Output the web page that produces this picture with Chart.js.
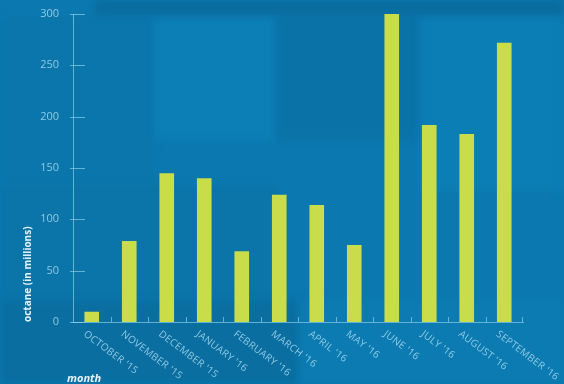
<!DOCTYPE html>
<html>
<head>
<meta charset="utf-8">
<script src="https://cdn.jsdelivr.net/npm/chart.js@4"></script>
<style>
    html, body { margin: 0; padding: 0; background: #0b79b0; }
    canvas { display: block; }
</style>
</head>
<body>
<canvas id="chart" width="564" height="384"></canvas>
<script>
const months = ["OCTOBER '15", "NOVEMBER '15", "DECEMBER '15", "JANUARY '16", "FEBRUARY '16", "MARCH '16",
                "APRIL '16", "MAY '16", "JUNE '16", "JULY '16", "AUGUST '16", "SEPTEMBER '16"];
const octane = [10, 79, 145, 140, 69, 124, 114, 75, 300, 192, 183, 272];
const yTicks = [0, 50, 100, 150, 200, 250, 300];

const axisColor = 'rgba(150, 210, 235, 0.65)';
const labelColor = 'rgba(175, 222, 242, 0.8)';

// blocky blurred backdrop
const backdrop = {
    id: 'backdrop',
    beforeDraw(chart) {
        const ctx = chart.ctx;
        const blocks = [
            ['#0b79b0', 0, 0, 564, 384],
            ['#0b76ab', 0, 15, 155, 170],
            ['#0c7fb7', 155, 15, 122, 125],
            ['#0a72a6', 277, 15, 143, 125],
            ['#0c7eb6', 420, 15, 144, 175],
            ['#0b74a8', 0, 185, 280, 115],
            ['#0a6ea0', 0, 300, 300, 84],
            ['#0b7bb1', 300, 300, 264, 84],
            ['#0a6c9d', 95, 0, 469, 15]
        ];
        ctx.save();
        ctx.filter = 'blur(4px)';
        blocks.forEach(function (b) {
            ctx.fillStyle = b[0];
            ctx.fillRect(b[1], b[2], b[3], b[4]);
        });
        ctx.restore();
    }
};

// y ticks poke into the plot, x ticks sit between the bars and point up
const tickMarks = {
    id: 'tickMarks',
    afterDraw(chart) {
        const ctx = chart.ctx;
        const x = chart.scales.x, y = chart.scales.y;
        const area = chart.chartArea;
        ctx.save();
        ctx.strokeStyle = axisColor;
        ctx.lineWidth = 1;
        ctx.beginPath();
        yTicks.forEach(function (v) {
            const py = Math.round(y.getPixelForValue(v)) + 0.5;
            ctx.moveTo(area.left - 3, py);
            ctx.lineTo(area.left + 12, py);
        });
        for (let i = 1; i <= months.length; i++) {
            const px = Math.round((x.getPixelForValue(i - 1) + x.getPixelForValue(i)) / 2) + 0.5;
            const lx = i === months.length ? area.right - 0.5 : px;
            ctx.moveTo(lx, area.bottom);
            ctx.lineTo(lx, area.bottom - 5);
        }
        ctx.stroke();

        // month labels run down to the right from each bar
        ctx.fillStyle = labelColor;
        ctx.font = "10px 'Open Sans'";
        ctx.letterSpacing = '0.3px';
        ctx.textAlign = 'left';
        ctx.textBaseline = 'middle';
        months.forEach(function (m, i) {
            const px = x.getPixelForValue(i);
            ctx.save();
            ctx.translate(px - 7, area.bottom + 11);
            ctx.rotate(37 * Math.PI / 180);
            ctx.fillText(m, 0, 0);
            ctx.restore();
        });

        ctx.letterSpacing = '0px';
        ctx.fillStyle = '#e6f3fa';
        ctx.font = "italic bold 11px 'Open Sans'";
        ctx.fillText('month', 67, 379);
        ctx.restore();
    }
};

new Chart(document.getElementById('chart'), {
    type: 'bar',
    data: {
        labels: months,
        datasets: [{
            label: 'octane (in millions)',
            data: octane,
            backgroundColor: '#c9dd4a',
            borderWidth: 0,
            barPercentage: 0.78,
            categoryPercentage: 0.5
        }]
    },
    options: {
        responsive: false,
        animation: false,
        layout: { padding: { top: 14, right: 41, left: 0, bottom: 0 } },
        plugins: {
            legend: { display: false },
            tooltip: { enabled: false }
        },
        scales: {
            x: {
                afterFit: function (s) { s.height = 62; },
                grid: { display: false },
                border: { display: true, color: axisColor, width: 1 },
                ticks: { display: false }
            },
            y: {
                min: 0,
                max: 300,
                afterFit: function (s) { s.width = 73; },
                afterBuildTicks: function (s) { s.ticks = yTicks.map(function (v) { return { value: v }; }); },
                grid: { display: false },
                border: { display: true, color: axisColor, width: 1 },
                ticks: {
                    color: labelColor,
                    padding: 6,
                    font: { family: "'Open Sans'", size: 11 }
                },
                title: {
                    display: true,
                    text: 'octane (in millions)',
                    align: 'start',
                    color: '#e6f3fa',
                    font: { family: "'Open Sans'", size: 10, weight: 'bold' },
                    padding: { top: 22, bottom: 0 }
                }
            }
        }
    },
    plugins: [backdrop, tickMarks]
});
</script>
</body>
</html>
